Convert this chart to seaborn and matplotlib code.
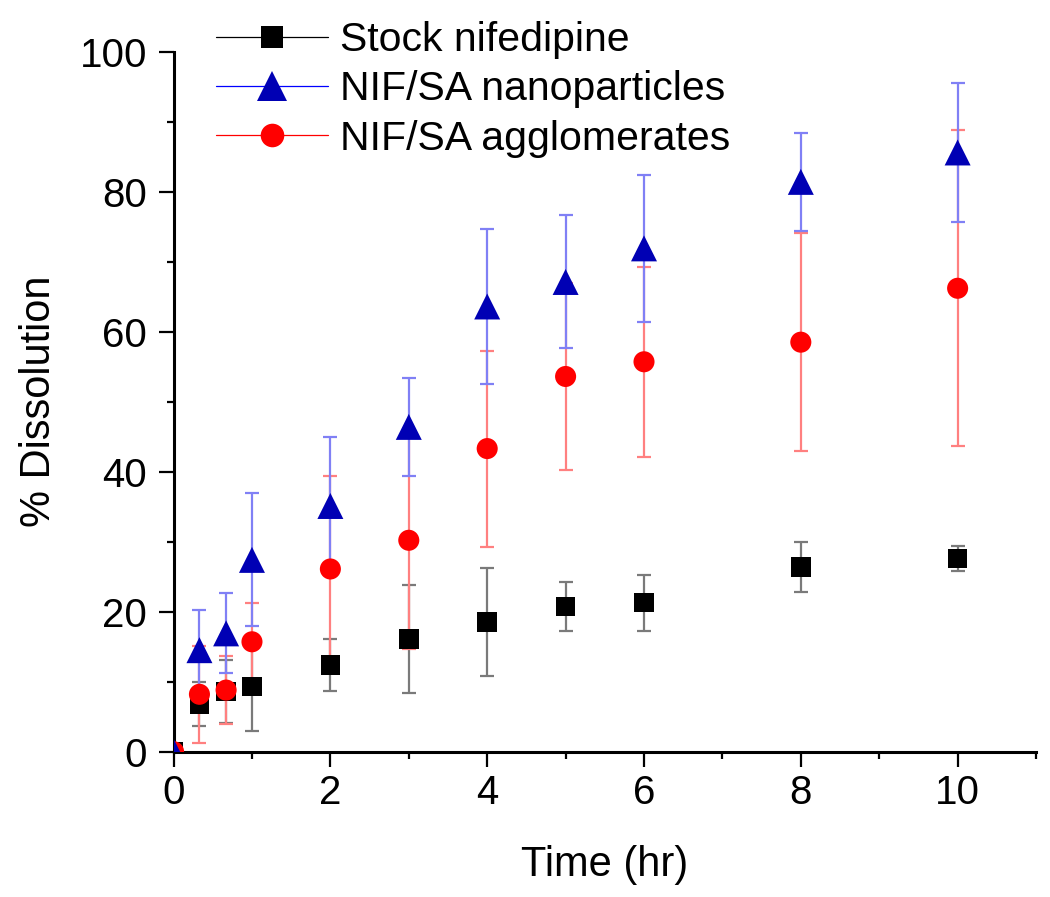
import numpy as np
import pandas as pd
import matplotlib
matplotlib.use("Agg")
import matplotlib.pyplot as plt
from matplotlib.lines import Line2D
from matplotlib.ticker import MultipleLocator
import seaborn as sns

# ---- data ----
time_hr = [0, 0.33, 0.67, 1, 2, 3, 4, 5, 6, 8, 10]
stock = [0, 6.8, 8.6, 9.3, 12.4, 16.1, 18.5, 20.75, 21.3, 26.4, 27.6]
stock_sd = [0, 3.1, 4.5, 6.3, 3.7, 7.7, 7.7, 3.5, 4.0, 3.6, 1.85]
nano = [0, 14.5, 16.9, 27.4, 35.1, 46.4, 63.6, 67.1, 71.9, 81.4, 85.6]
nano_sd = [0, 5.8, 5.7, 9.5, 9.8, 7.0, 11.1, 9.5, 10.5, 7.0, 9.9]
agg = [0, 8.2, 8.8, 15.7, 26.1, 30.2, 43.3, 53.6, 55.7, 58.5, 66.2]
agg_sd = [0, 6.9, 4.9, 5.5, 13.3, 15.6, 14.0, 13.3, 13.6, 15.6, 22.6]

series_names = ["Stock nifedipine", "NIF/SA nanoparticles", "NIF/SA agglomerates"]

sns.set_theme(style="ticks")
plt.rcParams["font.family"] = ["Liberation Sans", "DejaVu Sans"]
plt.rcParams["text.color"] = "black"
plt.rcParams["axes.labelcolor"] = "black"
plt.rcParams["xtick.color"] = "black"
plt.rcParams["ytick.color"] = "black"

df = pd.concat([
    pd.DataFrame({"time": time_hr, "value": stock, "sd": stock_sd, "series": series_names[0]}),
    pd.DataFrame({"time": time_hr, "value": nano, "sd": nano_sd, "series": series_names[1]}),
    pd.DataFrame({"time": time_hr, "value": agg, "sd": agg_sd, "series": series_names[2]}),
])

marker_col = {series_names[0]: "#000000", series_names[1]: "#0000b4", series_names[2]: "#ff0000"}
err_col = {series_names[0]: "#7a7a7a", series_names[1]: "#8080f5", series_names[2]: "#ff8080"}
line_col = {series_names[0]: "#000000", series_names[1]: "#0000ff", series_names[2]: "#ff0000"}
markers = {series_names[0]: "s", series_names[1]: "^", series_names[2]: "o"}
msizes = {series_names[0]: 200, series_names[1]: 350, series_names[2]: 230}
leg_ms = {series_names[0]: 16, series_names[1]: 21, series_names[2]: 17}
draw_order = [series_names[0], series_names[2], series_names[1]]

fig = plt.figure(figsize=(10.5, 8.97), dpi=100)
ax = fig.add_axes([0.1653, 0.162, 0.8214, 0.7804])

for name in draw_order:
    sub = df[df["series"] == name]
    ax.errorbar(sub["time"], sub["value"], yerr=sub["sd"], fmt="none",
                ecolor=err_col[name], elinewidth=1.6, capsize=5, capthick=1.6, zorder=2)

for name in draw_order:
    sub = df[df["series"] == name]
    sns.scatterplot(x="time", y="value", data=sub, marker=markers[name], s=msizes[name],
                    color=marker_col[name], edgecolor="none", linewidth=0, ax=ax,
                    zorder=3, legend=False)

ax.set_xlim(0, 11)
ax.set_ylim(0, 100)
ax.xaxis.set_major_locator(MultipleLocator(2))
ax.xaxis.set_minor_locator(MultipleLocator(1))
ax.yaxis.set_major_locator(MultipleLocator(20))
ax.yaxis.set_minor_locator(MultipleLocator(10))
ax.tick_params(which="major", direction="out", length=11, width=1.6, labelsize=29, colors="black")
ax.tick_params(axis="x", which="major", pad=5)
ax.tick_params(axis="y", which="major", pad=8)
ax.tick_params(which="minor", direction="out", length=5, width=1.6, colors="black")
for s in ["top", "right"]:
    ax.spines[s].set_visible(False)
for s in ["left", "bottom"]:
    ax.spines[s].set_linewidth(2.2)
    ax.spines[s].set_color("black")

ax.set_xlabel("Time (hr)", fontsize=30, labelpad=24, color="black")
ax.set_ylabel("% Dissolution", fontsize=30, labelpad=15, color="black")

handles = [Line2D([0], [0], color=line_col[n], lw=0.9, marker=markers[n],
                  markersize=leg_ms[n], markerfacecolor=marker_col[n],
                  markeredgecolor=marker_col[n], markeredgewidth=0)
           for n in series_names]
leg = ax.legend(handles, series_names, loc="upper left", bbox_to_anchor=(0.049, 1.044),
                frameon=False, fontsize=29.5, handlelength=2.75, handletextpad=0.27,
                labelspacing=0.28, borderpad=0, borderaxespad=0)
for t in leg.get_texts():
    t.set_color("black")

fig.savefig("out.png", dpi=100)
